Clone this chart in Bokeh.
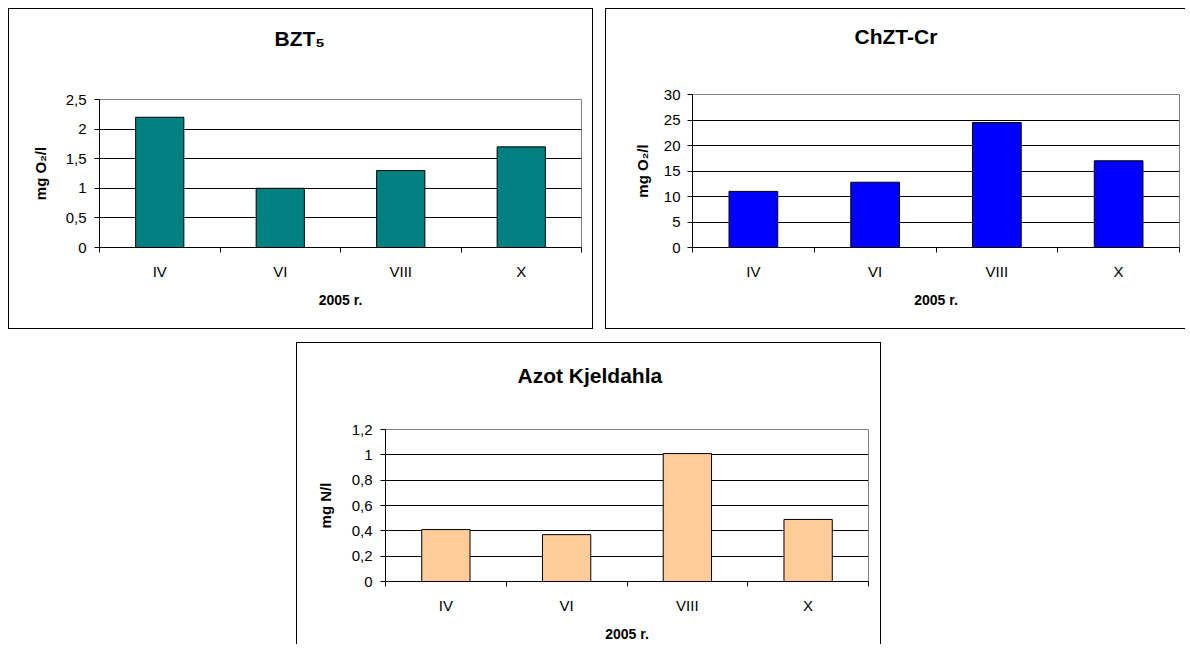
from bokeh.plotting import figure
from bokeh.models import Range1d, FixedTicker, CustomJSTickFormatter, Spacer, Title
from bokeh.layouts import row, column
from bokeh.embed import file_html
from bokeh.resources import INLINE

# ---- data ----
months = ["IV", "VI", "VIII", "X"]
bzt5_values = [2.2, 1.0, 1.3, 1.7]
chzt_values = [11.0, 12.8, 24.5, 17.0]
azot_values = [0.41, 0.37, 1.01, 0.49]
bzt5_ticks = [0, 0.5, 1, 1.5, 2, 2.5]
chzt_ticks = [0, 5, 10, 15, 20, 25, 30]
azot_ticks = [0, 0.2, 0.4, 0.6, 0.8, 1, 1.2]
x_title = "2005 r."

FONT = "Liberation Sans"


def make_chart(title, ylabel, values, ticks, color, width, height, mb,
               title_offset, title_gap, ylab_standoff, ytick_standoff, border_css):
    n = len(months)
    p = figure(width=width, height=height, output_backend="svg", toolbar_location=None,
               x_range=Range1d(0, n), y_range=Range1d(ticks[0], ticks[-1]),
               min_border_left=mb[0], min_border_top=mb[1],
               min_border_right=mb[2], min_border_bottom=mb[3],
               styles=border_css)
    centers = [i + 0.5 for i in range(n)]
    p.vbar(x=centers, top=values, bottom=0, width=0.4,
           fill_color=color, line_color="black", line_width=1)

    p.background_fill_color = "white"
    p.border_fill_color = "white"
    p.outline_line_color = "#808080"

    # title: an invisible spacer title next to the frame, the real title above it
    p.title.text = ""
    p.add_layout(Title(text=" ", text_font_size="1px", standoff=title_gap,
                       text_color="white"), "above")
    p.add_layout(Title(text=title, align="left", offset=title_offset, standoff=0,
                       vertical_align="middle", text_font=FONT, text_font_size="21px",
                       text_font_style="bold", text_color="black"), "above")

    # y axis
    yt = FixedTicker(ticks=ticks)
    yax = p.yaxis[0]
    yax.ticker = yt
    yax.formatter = CustomJSTickFormatter(code="return tick.toString().replace('.', ',');")
    yax.axis_line_color = "black"
    yax.major_tick_line_color = "black"
    yax.major_tick_in = 0
    yax.major_tick_out = 5
    yax.minor_tick_line_color = None
    yax.major_label_standoff = ytick_standoff
    yax.major_label_text_font = FONT
    yax.major_label_text_font_size = "15px"
    yax.major_label_text_color = "black"
    yax.axis_label = ylabel
    yax.axis_label_text_font = FONT
    yax.axis_label_text_font_size = "15px"
    yax.axis_label_text_font_style = "bold"
    yax.axis_label_text_color = "black"
    yax.axis_label_standoff = ylab_standoff

    # x axis: labels at category centres, ticks at category boundaries
    xax = p.xaxis[0]
    xax.ticker = FixedTicker(ticks=centers, minor_ticks=list(range(n + 1)))
    xax.formatter = CustomJSTickFormatter(args=dict(labels=months),
                                          code="return labels[Math.floor(tick)];")
    xax.axis_line_color = "black"
    xax.major_tick_line_color = None
    xax.major_tick_in = 0
    xax.major_tick_out = 0
    xax.minor_tick_line_color = "black"
    xax.minor_tick_in = 0
    xax.minor_tick_out = 5
    xax.major_label_standoff = 10
    xax.major_label_text_font = FONT
    xax.major_label_text_font_size = "15px"
    xax.major_label_text_color = "black"
    xax.axis_label = x_title
    xax.axis_label_text_font = FONT
    xax.axis_label_text_font_size = "14px"
    xax.axis_label_text_font_style = "bold"
    xax.axis_label_text_color = "black"
    xax.axis_label_standoff = 9

    p.xgrid.visible = False
    p.ygrid.ticker = yt
    p.ygrid.grid_line_color = "black"
    p.ygrid.grid_line_width = 1
    return p


p1 = make_chart("BZT\u2085", "mg O\u2082/l", bzt5_values, bzt5_ticks, "#008080",
                585, 321, (90, 90, 13, 83), 175, 46, 14, 8,
                {"border": "1px solid black"})
p2 = make_chart("ChZT-Cr", "mg O\u2082/l", chzt_values, chzt_ticks, "#0000FF",
                580, 321, (86, 85, 7, 83), 162, 43, 10, 7,
                {"border-top": "1px solid black", "border-left": "1px solid black",
                 "border-bottom": "1px solid black"})
p3 = make_chart("Azot Kjeldahla", "mg N/l", azot_values, azot_ticks, "#FFCC99",
                585, 302, (88, 86, 14, 64), 132, 39, 15, 8,
                {"border-top": "1px solid black", "border-left": "1px solid black",
                 "border-right": "1px solid black"})

layout = column(row(column(p1), column(p2), spacing=12),
                row(Spacer(width=288, height=10), p3),
                spacing=13, margin=(8, 0, 0, 8))

open("out.html", "w").write(file_html(layout, INLINE))
